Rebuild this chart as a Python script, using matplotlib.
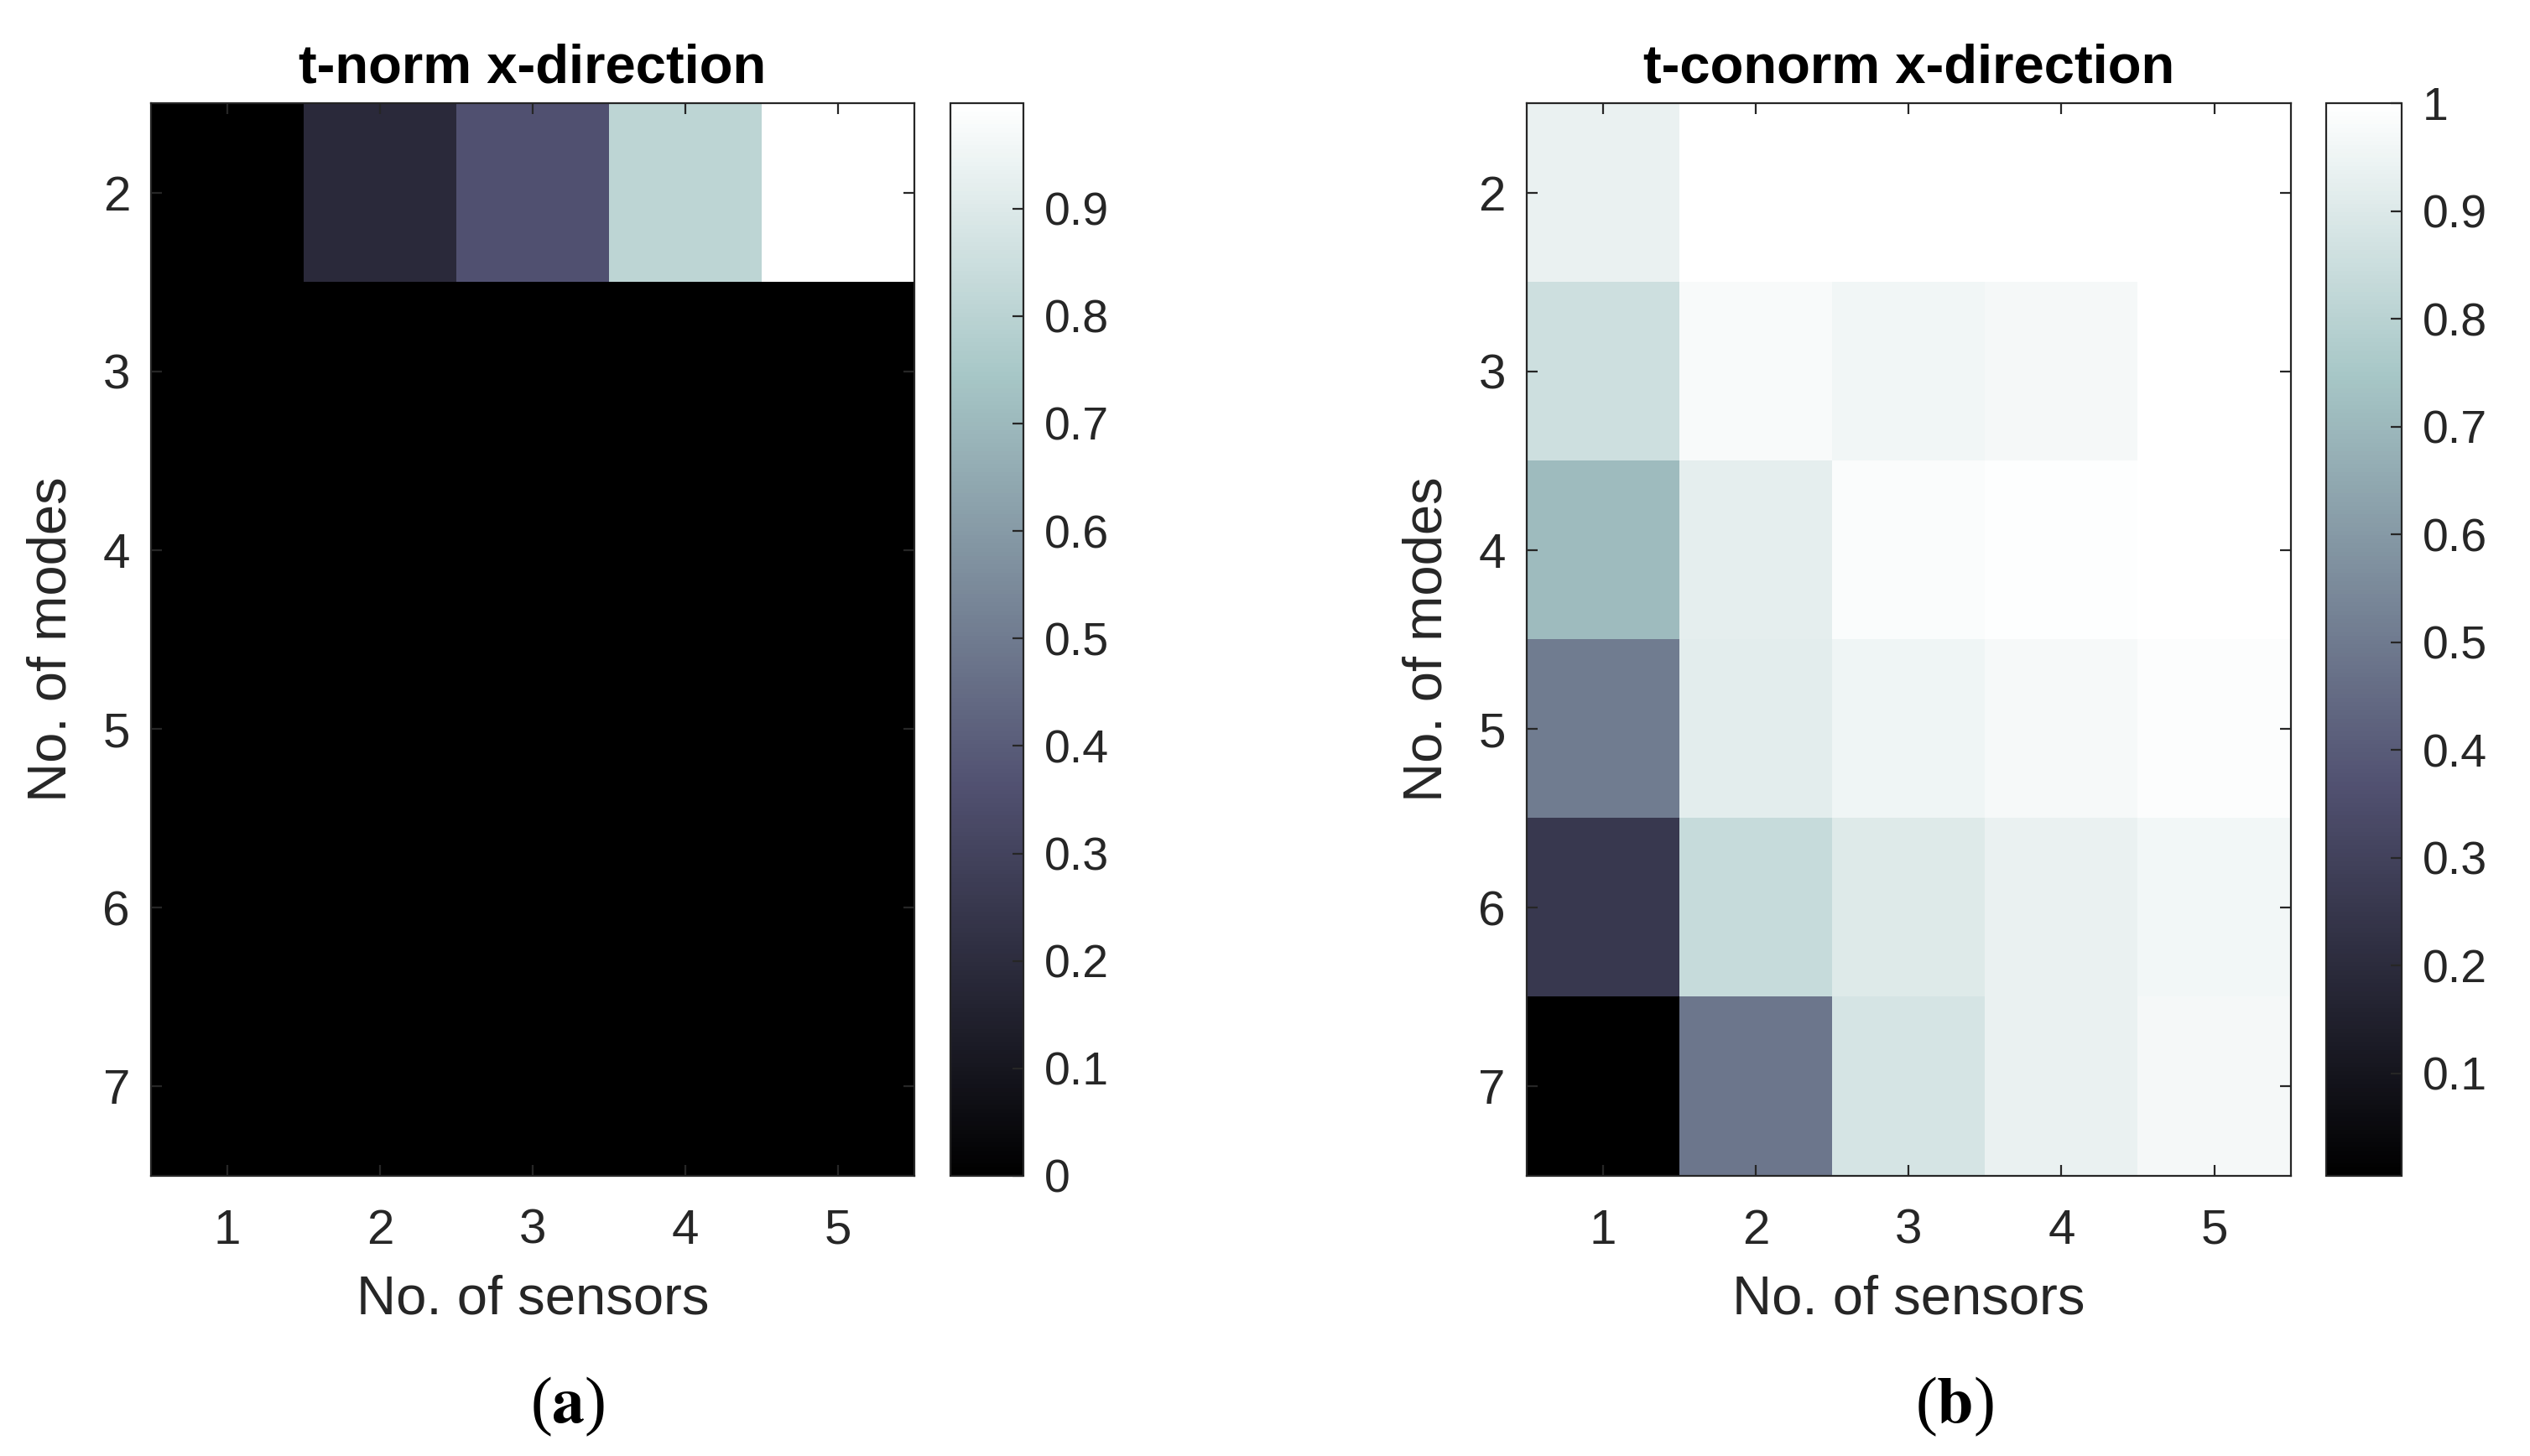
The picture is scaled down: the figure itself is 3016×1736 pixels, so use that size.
import numpy as np
import matplotlib
matplotlib.use("Agg")
import matplotlib.pyplot as plt
from matplotlib.ticker import FuncFormatter

plt.rcParams['font.family'] = ['Liberation Sans', 'DejaVu Sans']
plt.rcParams['mathtext.fontset'] = 'stix'

sensors = [1, 2, 3, 4, 5]
modes = [2, 3, 4, 5, 6, 7]

# t-norm, rows = modes 2..7, cols = sensors 1..5
tnorm = np.array([
    [0.0, 0.19, 0.36, 0.81, 0.998],
    [0.0, 0.0, 0.0, 0.0, 0.0],
    [0.0, 0.0, 0.0, 0.0, 0.0],
    [0.0, 0.0, 0.0, 0.0, 0.0],
    [0.0, 0.0, 0.0, 0.0, 0.0],
    [0.0, 0.0, 0.0, 0.0, 0.0],
])

# t-conorm
tconorm = np.array([
    [0.94, 1.0, 1.0, 1.0, 1.0],
    [0.857, 0.98, 0.96, 0.97, 0.998],
    [0.71, 0.925, 0.985, 0.995, 1.0],
    [0.51, 0.92, 0.955, 0.975, 0.99],
    [0.26, 0.84, 0.905, 0.94, 0.965],
    [0.005, 0.49, 0.88, 0.94, 0.97],
])

titles = ['t-norm x-direction', 't-conorm x-direction']
panel_labels = [r'($\mathbf{a}$)', r'($\mathbf{b}$)']
cbar_ticks = [[0, 0.1, 0.2, 0.3, 0.4, 0.5, 0.6, 0.7, 0.8, 0.9],
              [0.1, 0.2, 0.3, 0.4, 0.5, 0.6, 0.7, 0.8, 0.9, 1.0]]

grey = '#262626'
fmt = FuncFormatter(lambda v, p: '%g' % v)

fig = plt.figure(figsize=(15.08, 8.68), dpi=200)

ax_pos = [[0.0597, 0.1924, 0.3017, 0.7367], [0.6034, 0.1924, 0.302, 0.7367]]
cb_pos = [[0.3757, 0.1924, 0.0288, 0.7367], [0.9194, 0.1924, 0.0298, 0.7367]]
lab_x = [0.2245, 0.7725]

for i, data in enumerate([tnorm, tconorm]):
    ax = fig.add_axes(ax_pos[i])
    im = ax.imshow(data, cmap='bone', aspect='auto', interpolation='nearest',
                   extent=[0.5, 5.5, 7.5, 1.5], vmin=data.min(), vmax=data.max())
    ax.set_xticks(sensors)
    ax.set_yticks(modes)
    ax.tick_params(direction='in', length=4.7, width=0.8, color=grey,
                   labelcolor=grey, labelsize=21, top=True, right=True)
    ax.tick_params(axis='x', pad=14)
    ax.tick_params(axis='y', pad=9)
    for s in ax.spines.values():
        s.set_color(grey)
        s.set_linewidth(0.8)
    ax.set_xlabel('No. of sensors', fontsize=23.5, color=grey, labelpad=9)
    ax.set_ylabel('No. of modes', fontsize=23.5, color=grey, labelpad=11)
    ax.set_title(titles[i], fontsize=23.5, fontweight='bold', color='black', pad=9)

    cax = fig.add_axes(cb_pos[i])
    cb = fig.colorbar(im, cax=cax)
    cb.set_ticks(cbar_ticks[i])
    cb.ax.yaxis.set_major_formatter(fmt)
    cb.ax.tick_params(direction='in', length=4.7, width=0.8, color=grey,
                      labelcolor=grey, labelsize=20, pad=9)
    cb.outline.set_edgecolor(grey)
    cb.outline.set_linewidth(0.8)

    fig.text(lab_x[i], 0.034, panel_labels[i], fontsize=28, ha='center', va='center',
             family=['Liberation Serif', 'DejaVu Serif'], color='black')

fig.savefig('out.png', dpi=200, facecolor='white')
